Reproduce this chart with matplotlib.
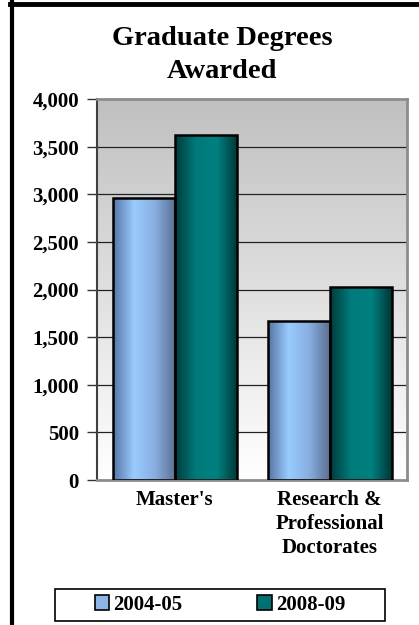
import numpy as np
import matplotlib
matplotlib.use('Agg')
import matplotlib.pyplot as plt
from matplotlib.colors import LinearSegmentedColormap
from matplotlib.patches import Patch, Rectangle
from matplotlib.lines import Line2D

categories = ["Master's", "Research &\nProfessional\nDoctorates"]
series = ['2004-05', '2008-09']
values_0405 = [2960, 1665]
values_0809 = [3620, 2025]
yticks = [0, 500, 1000, 1500, 2000, 2500, 3000, 3500, 4000]
ytick_labels = ['0', '500', '1,000', '1,500', '2,000', '2,500', '3,000', '3,500', '4,000']

blue_cmap = LinearSegmentedColormap.from_list('blue', ['#5574a4', '#99ccff', '#88aee0', '#5a6f90'])
teal_cmap = LinearSegmentedColormap.from_list('teal', ['#003b3b', '#007a7a', '#008080', '#003636'])
face_colors = ['#8fb4e6', '#007070']


def main():
    plt.rcParams['font.family'] = ['Liberation Serif', 'DejaVu Serif']
    plt.rcParams['font.weight'] = 'bold'
    fig = plt.figure(figsize=(4.19, 6.25), dpi=100)
    ax = fig.add_axes([97 / 419, 1 - 480 / 625, 310 / 419, 381 / 625])

    # background gradient, gray at top to white at bottom
    grad = np.linspace(0, 1, 256).reshape(-1, 1)
    bg = LinearSegmentedColormap.from_list('bg', ['#ffffff', '#c0c0c0'])
    ax.imshow(grad, cmap=bg, extent=[0, 1, 0, 1], transform=ax.transAxes,
              aspect='auto', origin='lower', zorder=0)

    x = np.arange(len(categories))
    w = 0.4
    hgrad = np.linspace(0, 1, 256).reshape(1, -1)
    for i, (vals, cmap) in enumerate([(values_0405, blue_cmap), (values_0809, teal_cmap)]):
        xs = x - w / 2 + i * w
        bars = ax.bar(xs, vals, w, facecolor='none', edgecolor='black', linewidth=1.8, zorder=3)
        for b in bars:
            x0, y0 = b.get_x(), b.get_y()
            ax.imshow(hgrad, cmap=cmap, extent=[x0, x0 + b.get_width(), y0, y0 + b.get_height()],
                      aspect='auto', zorder=2)

    ax.set_xlim(-0.5, 1.5)
    ax.set_ylim(0, 4000)
    ax.set_yticks(yticks)
    ax.set_yticklabels(ytick_labels, fontsize=15)
    ax.set_xticks(x)
    ax.set_xticklabels(categories, fontsize=15, linespacing=1.27)
    ax.tick_params(axis='x', length=0, pad=7)
    ax.tick_params(axis='y', length=7, width=1, color='#333333', pad=6)

    for yv in yticks[1:-1]:
        ax.axhline(yv, color='#222222', linewidth=0.9, zorder=1)

    for side in ['top', 'right']:
        ax.spines[side].set_color('#8c8c8c')
        ax.spines[side].set_linewidth(2)
    ax.spines['left'].set_color('#404040')
    ax.spines['left'].set_linewidth(1.5)
    ax.spines['bottom'].set_color('#8c8c8c')
    ax.spines['bottom'].set_linewidth(2)

    fig.text(222 / 419, 1 - 55 / 625, 'Graduate Degrees\nAwarded', ha='center', va='center',
             fontsize=20.5, fontweight='bold', linespacing=1.45)

    handles = [Patch(facecolor=c, edgecolor='black', linewidth=1.2) for c in face_colors]
    fig.legend(handles, series, loc='center', bbox_to_anchor=(220 / 419, 1 - 605 / 625),
               ncol=2, fontsize=15, frameon=False,
               handlelength=0.7, handleheight=0.7, handletextpad=0.2, columnspacing=3.6,
               borderpad=0.3)
    fig.add_artist(Rectangle((55 / 419, 1 - 621 / 625), 330 / 419, 32 / 625, facecolor='none',
                             edgecolor='black', linewidth=1.2, transform=fig.transFigure))

    # outer frame (top and left only)
    fig.add_artist(Line2D([10 / 419, 1], [1 - 3.5 / 625, 1 - 3.5 / 625], color='black',
                          linewidth=3.5, transform=fig.transFigure))
    fig.add_artist(Line2D([12 / 419, 12 / 419], [0, 1 - 2 / 625], color='black',
                          linewidth=3, transform=fig.transFigure))

    fig.savefig('out.png', dpi=100)


if __name__ == '__main__':
    main()
